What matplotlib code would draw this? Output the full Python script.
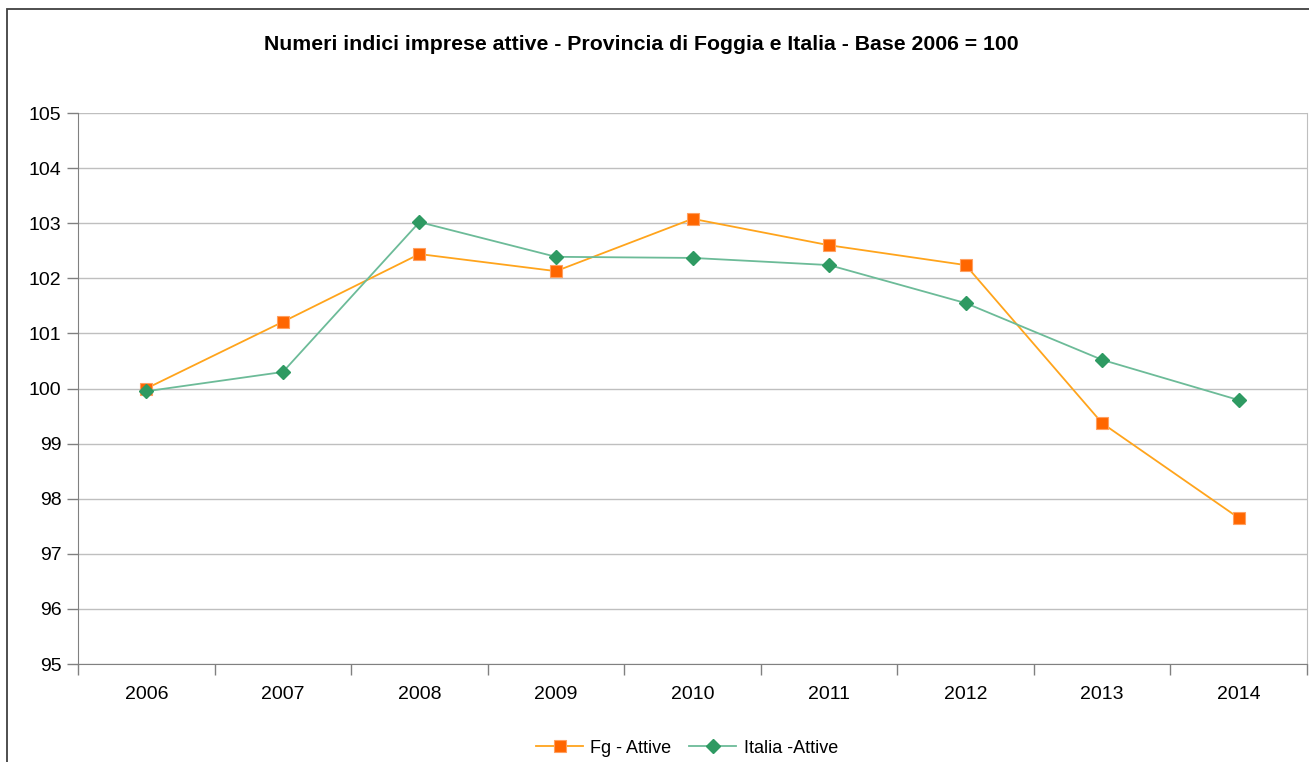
import matplotlib
matplotlib.use("Agg")
import matplotlib.pyplot as plt
from matplotlib.patches import Rectangle

anni = ["2006", "2007", "2008", "2009", "2010", "2011", "2012", "2013", "2014"]
fg_attive = [100.0, 101.21, 102.44, 102.13, 103.08, 102.6, 102.24, 99.37, 97.65]
italia_attive = [99.95, 100.3, 103.02, 102.39, 102.37, 102.24, 101.55, 100.52, 99.79]
y_ticks = [95, 96, 97, 98, 99, 100, 101, 102, 103, 104, 105]

plt.rcParams['font.family'] = ['Liberation Sans', 'DejaVu Sans']

fig = plt.figure(figsize=(13.09, 7.62), dpi=100)
ax = fig.add_axes([0.0596, 0.1286, 0.9389, 0.7231])

x = list(range(len(anni)))
ax.plot(x, fg_attive, color='#FFA41C', lw=1.3, marker='s', markersize=8.5,
        markerfacecolor='#FF6600', markeredgecolor='#FFA060', markeredgewidth=0.8,
        label='Fg - Attive', zorder=3)
ax.plot(x, italia_attive, color='#6CBB98', lw=1.3, marker='D', markersize=7.5,
        markerfacecolor='#2E9A62', markeredgecolor='#2E9A62',
        label='Italia -Attive', zorder=3)

ax.set_xlim(-0.5, len(anni) - 0.5)
ax.set_ylim(95, 105)
ax.set_yticks(y_ticks)
ax.set_yticklabels([str(v) for v in y_ticks], fontsize=14)
ax.set_xticks(x)
ax.set_xticklabels(anni, fontsize=14)
ax.set_xticks([i - 0.5 for i in range(len(anni) + 1)], minor=True)
ax.tick_params(axis='x', which='major', length=0, pad=16)
ax.tick_params(axis='x', which='minor', length=8, color='#808080', width=1)
ax.tick_params(axis='y', length=8, color='#808080', width=1, pad=4)
ax.grid(axis='y', color='#BFBFBF', lw=1)
ax.set_axisbelow(True)
ax.spines['top'].set_visible(False)
ax.spines['left'].set_color('#808080')
ax.spines['bottom'].set_color('#808080')
ax.spines['right'].set_color('#BFBFBF')

fig.text(641 / 1309, 0.942, 'Numeri indici imprese attive - Provincia di Foggia e Italia - Base 2006 = 100',
         ha='center', va='center', fontsize=15.3, fontweight='bold')

fig.legend(loc='center', bbox_to_anchor=(687 / 1309, 0.018), ncol=2, frameon=False,
           fontsize=13, handlelength=2.6, columnspacing=1.0, handletextpad=0.4)

fig.patches.append(Rectangle((7 / 1309, -0.05), 1.1, (762 - 9) / 762 + 0.05,
                             transform=fig.transFigure, fill=False,
                             edgecolor='#404040', lw=1.3))

fig.savefig('out.png', dpi=100)
